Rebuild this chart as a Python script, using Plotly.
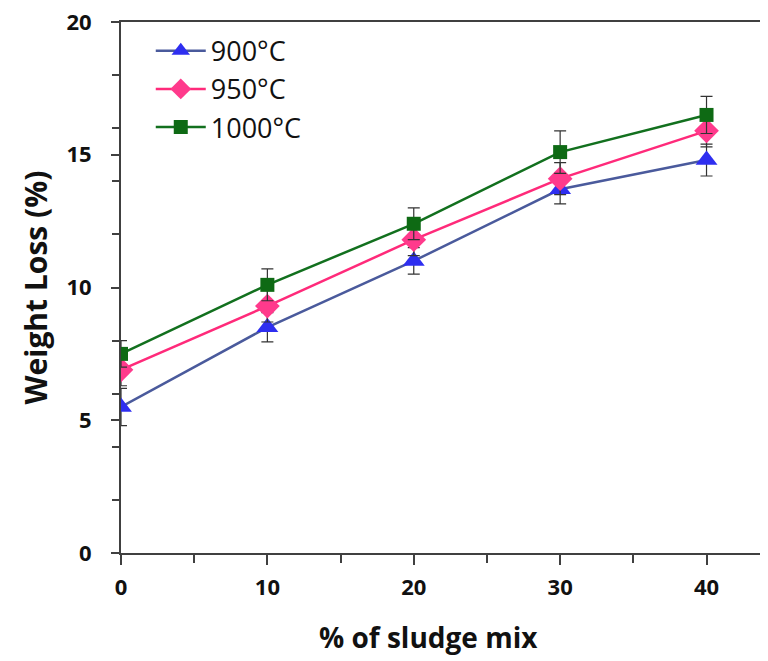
import plotly.graph_objects as go

# Data
sludge_pct = [0, 10, 20, 30, 40]
loss_900 = [5.5, 8.5, 11.0, 13.7, 14.8]
loss_950 = [6.9, 9.3, 11.8, 14.1, 15.9]
loss_1000 = [7.5, 10.1, 12.4, 15.1, 16.5]
err_900 = [0.7, 0.55, 0.5, 0.55, 0.6]
err_950 = [0.6, 0.6, 0.6, 0.6, 0.6]
err_1000 = [0.5, 0.6, 0.6, 0.8, 0.7]
series_names = ["900°C", "950°C", "1000°C"]

FONT = "Open Sans"

fig = go.Figure()

specs = [
    (series_names[0], loss_900, err_900, "#4A5A9C", "#2E2EF0", "triangle-up", 19),
    (series_names[1], loss_950, err_950, "#FF2A7A", "#FF3A8C", "diamond", 19),
    (series_names[2], loss_1000, err_1000, "#12701E", "#0E6A14", "square", 14),
]

for name, ys, es, lc, mc, sym, sz in specs:
    fig.add_trace(go.Scatter(
        x=sludge_pct, y=ys, name=name, mode="lines+markers",
        line=dict(color=lc, width=2.5),
        marker=dict(color=mc, symbol=sym, size=sz, line=dict(width=0)),
        error_y=dict(type="data", array=es, visible=True, color="#333333",
                     thickness=1.2, width=6),
    ))

# page has an 8px body margin, so plot-area margins are offset by 8px
fig.update_layout(
    width=768, height=661,
    margin=dict(l=113, r=8, t=14, b=116, autoexpand=False),
    paper_bgcolor="white", plot_bgcolor="white",
    showlegend=True,
    legend=dict(x=0.046, y=0.991, xanchor="left", yanchor="top",
                bgcolor="rgba(0,0,0,0)",
                font=dict(family=FONT, size=27, color="#111111"),
                tracegroupgap=0, itemwidth=50),
    font=dict(family=FONT, color="#111111"),
)

fig.update_xaxes(
    range=[0, 44.2], tickmode="linear", tick0=0, dtick=10,
    showgrid=False, zeroline=False, automargin=False,
    showline=True, linecolor="#404040", linewidth=2, mirror=True,
    ticks="outside", ticklen=10, tickwidth=1.5, tickcolor="#404040",
    minor=dict(dtick=5, ticks="outside", ticklen=8, tickwidth=1.5, tickcolor="#404040"),
    tickfont=dict(family=FONT, size=22, weight="bold", color="#111111"),
    ticklabelstandoff=4, ticklabeloverflow="allow",
)
fig.update_yaxes(
    range=[0, 20], tickmode="linear", tick0=0, dtick=5,
    showgrid=False, zeroline=False, automargin=False,
    showline=True, linecolor="#404040", linewidth=2,
    ticks="outside", ticklen=8, tickwidth=1.5, tickcolor="#404040",
    minor=dict(dtick=2, ticks="outside", ticklen=7, tickwidth=1.5, tickcolor="#404040"),
    tickfont=dict(family=FONT, size=22, weight="bold", color="#111111"),
    ticklabelstandoff=15, ticklabeloverflow="allow",
)

fig.add_annotation(text="% of sludge mix", xref="paper", yref="paper",
                   x=(428 - 121) / 647, y=-(637 - 553) / 531,
                   xanchor="center", yanchor="middle", showarrow=False,
                   font=dict(family=FONT, size=28, weight="bold", color="#111111"))
fig.add_annotation(text="Weight Loss (%)", xref="paper", yref="paper",
                   x=-(121 - 35) / 647, y=0.5, textangle=-90,
                   xanchor="center", yanchor="middle", showarrow=False,
                   font=dict(family=FONT, size=30, weight="bold", color="#111111"))

fig.write_html("out.html")
